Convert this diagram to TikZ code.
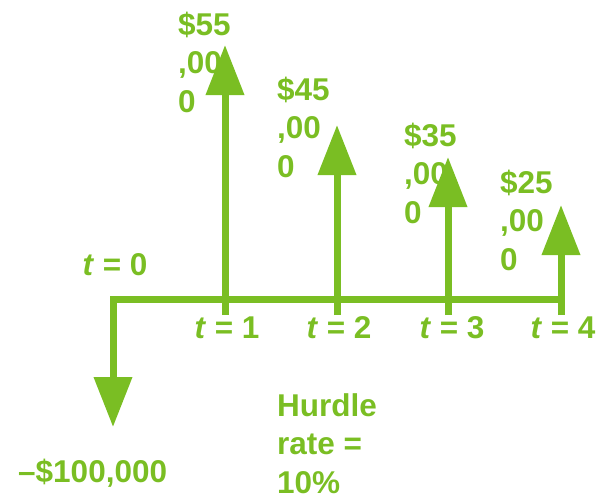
\documentclass[tikz,border=0pt]{standalone}
\usepackage{fontspec}
\setmainfont{Liberation Sans}
\usetikzlibrary{arrows.meta}
\definecolor{cfgreen}{RGB}{122,190,35}
\begin{document}
\begin{tikzpicture}[x=1pt,y=-1pt,
  flow/.style={draw=cfgreen,line width=7pt,line join=miter,-{Triangle[length=50pt,width=37pt]}},
  lbl/.style={text=cfgreen,inner sep=0pt,font=\fontsize{31.5}{38.5}\selectfont\bfseries,align=left,anchor=base west},
  tlbl/.style={text=cfgreen,inner sep=0pt,font=\fontsize{31.5}{38.5}\selectfont\bfseries,anchor=base}]
\useasboundingbox (0,0) rectangle (597,498);
% axis coordinates
\coordinate (o) at (113,299);
\coordinate (e) at (561,299);
\coordinate (d) at (113,427);
\coordinate (b1) at (225,315); \coordinate (p1) at (225,45);
\coordinate (b2) at (337,315); \coordinate (p2) at (337,125);
\coordinate (b3) at (448,315); \coordinate (p3) at (448,157);
\coordinate (b4) at (561,315); \coordinate (p4) at (561,205);
% time line and outflow
\draw[flow] (e) -- (o) -- (d);
% inflows
\draw[flow] (b1) -- (p1);
\draw[flow] (b2) -- (p2);
\draw[flow] (b3) -- (p3);
\draw[flow] (b4) -- (p4);
% labels (base anchor = baseline of the last line)
\node[lbl] (v1) at (178,112) {\$55\\,00\\0};
\node[lbl] (v2) at (277,177) {\$45\\,00\\0};
\node[lbl] (v3) at (404,223) {\$35\\,00\\0};
\node[lbl] (v4) at (500,270) {\$25\\,00\\0};
\node[tlbl] (t0) at (115,275) {\textit{t} = 0};
\node[tlbl] (t1) at (227,338) {\textit{t} = 1};
\node[tlbl] (t2) at (339,338) {\textit{t} = 2};
\node[tlbl] (t3) at (452,338) {\textit{t} = 3};
\node[tlbl] (t4) at (563,338) {\textit{t} = 4};
\node[lbl] (out) at (18,482) {--\$100,000};
\node[lbl] (hr) at (277,493) {Hurdle\\rate =\\10\%};
\end{tikzpicture}
\end{document}
